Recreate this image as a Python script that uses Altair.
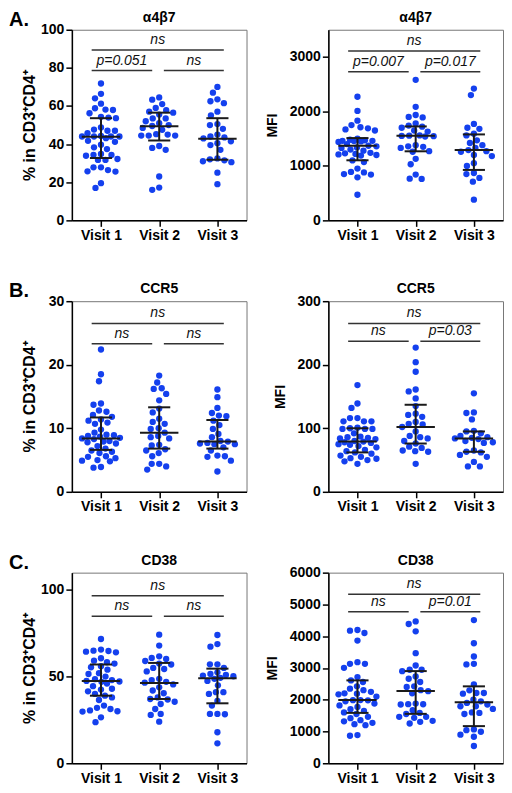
import altair as alt
import pandas as pd

BLUE = "#1440ee"
FONT = "Liberation Sans"
W, H = 175, 191

# ---------------- data ----------------
a4b7_pct_v1 = [71.8, 66.4, 64, 61.2, 56.2, 58.1, 57.9, 58.8, 53.9, 53.6, 54.3, 48.7, 47, 47, 47.6,
               44.3, 44, 44, 45.7, 43.1, 44, 44, 41.2, 41.7, 39.7, 37.4, 38.3, 34.4, 34.3, 33.9,
               34.8, 32.2, 31.7, 31.7, 27.8, 26.4, 27.8, 25.7, 25.6, 19.5, 17]
a4b7_pct_v2 = [64.5, 63.3, 61, 59, 57.8, 56.5, 57, 55.5, 53.5, 53.5, 51, 52, 50, 49.5, 48.5, 47.5,
               45, 44.5, 44.5, 44.5, 45.2, 39, 37, 38, 23, 16, 17.2]
a4b7_pct_v3 = [70, 67, 63.5, 62.5, 61.5, 57, 55, 50.5, 50, 48, 45, 44, 43.5, 43, 41.5, 40.5, 39.5,
               37, 32.5, 32, 31.5, 31, 30.5, 25, 19]
a4b7_pct_median = [43.8, 49.4, 42.8]
a4b7_pct_q1 = [32.7, 41.9, 31.8]
a4b7_pct_q3 = [53.6, 56.5, 53.6]

a4b7_mfi_v1 = [2270, 2010, 1830, 1750, 1710, 1690, 1670, 1650, 1500, 1480, 1470, 1460, 1460, 1455,
               1450, 1440, 1400, 1370, 1360, 1340, 1330, 1300, 1280, 1240, 1230, 1220, 1210, 1200,
               1190, 1100, 1070, 950, 890, 880, 850, 840, 790, 470]
a4b7_mfi_v2 = [2580, 2085, 1935, 1900, 1890, 1780, 1740, 1720, 1700, 1650, 1630, 1560, 1555, 1550,
               1545, 1540, 1380, 1360, 1350, 1330, 1270, 1260, 1130, 1030, 840, 765, 760]
a4b7_mfi_v3 = [2420, 2300, 1770, 1700, 1680, 1590, 1560, 1470, 1420, 1380, 1330, 1290, 1270, 1260,
               1200, 1180, 1050, 1000, 870, 850, 780, 710, 380]
a4b7_mfi_median = [1371, 1554, 1292]
a4b7_mfi_q1 = [1103, 1268, 926]
a4b7_mfi_q3 = [1511, 1725, 1578]

ccr5_pct_v1 = [22.4, 18.5, 17.4, 13.9, 13.7, 12.8, 12.6, 12.1, 11.8, 11.4, 11.2, 10.9, 10.7, 9.8,
               9.3, 9.0, 8.9, 8.8, 8.7, 8.5, 8.4, 8.3, 8.0, 7.9, 7.8, 7.6, 7.2, 6.8, 6.5, 6.3, 6.1,
               5.6, 5.5, 5.3, 5.0, 4.9, 4.8, 3.9, 3.8]
ccr5_pct_v2 = [18.3, 17.2, 16.3, 16.2, 15.4, 14.4, 13.1, 12.5, 11.5, 11.0, 10.7, 10.0, 9.9, 9.3,
               8.8, 8.6, 8.4, 7.4, 7.3, 6.7, 6.5, 6.1, 5.6, 4.4, 4.4, 4.0, 3.5]
ccr5_pct_v3 = [16.1, 14.9, 13.2, 12.4, 12.0, 11.9, 11.2, 10.5, 9.9, 9.1, 8.6, 8.0, 7.9, 7.7, 7.6,
               7.5, 7.5, 7.0, 6.5, 5.7, 5.6, 5.5, 4.9, 3.2]
ccr5_pct_median = [8.4, 9.3, 7.9]
ccr5_pct_q1 = [6.6, 6.8, 6.8]
ccr5_pct_q3 = [11.7, 13.3, 11.3]

ccr5_mfi_v1 = [168, 139, 132, 116, 116, 111, 111, 111, 101, 100, 99, 99, 99, 92, 87, 86, 85, 84,
               83, 80, 79, 78, 77, 75, 74, 72, 70, 66, 64, 62, 60, 57, 55, 53, 52, 50, 48, 44]
ccr5_mfi_v2 = [227, 204, 189, 161, 158, 147, 135, 123, 121, 118, 110, 107, 106, 102, 95, 88, 86,
               84, 80, 76, 71, 69, 65, 64, 63, 44]
ccr5_mfi_v3 = [155, 125, 124, 114, 96, 95, 92, 88, 86, 85, 84, 83, 80, 78, 77, 65, 63, 62, 58, 55,
               47, 40, 40]
ccr5_mfi_median = [79, 102, 84]
ccr5_mfi_q1 = [62, 76, 63]
ccr5_mfi_q3 = [100, 137, 95]

cd38_pct_v1 = [71.7, 65.6, 65, 64.8, 64.4, 64, 60.6, 59.2, 58.3, 57.5, 56, 55.4, 54, 52, 51.5, 50,
               48.5, 48, 47.5, 47.2, 47.0, 46, 44.5, 43, 42.5, 41.5, 40, 39, 38, 36.5, 33.3, 32,
               31.3, 30.5, 30, 29.8, 26.5, 23.7]
cd38_pct_v2 = [74.2, 67.9, 61.7, 60.8, 60.2, 59, 57.5, 57, 55, 54.4, 53, 48.7, 48, 47, 46.5, 45.5,
               43.8, 42, 40.4, 38, 37.1, 36.8, 35.5, 34.2, 31.3, 28.5, 27.9, 24]
cd38_pct_v3 = [74, 68.8, 67.3, 57.1, 57.1, 55, 52.5, 51.5, 51, 50.6, 50.2, 49.3, 48.7, 47.5, 45, 41,
               41, 40, 36, 33.3, 28.5, 28.5, 28.3, 17.9, 11.5]
cd38_pct_median = [47.5, 46.3, 49.0]
cd38_pct_q1 = [39.0, 37.1, 34.6]
cd38_pct_q3 = [57.0, 57.9, 54.6]

cd38_mfi_v1 = [4195, 4174, 4101, 3861, 3183, 3131, 3131, 3005, 2713, 2609, 2557, 2421, 2348, 2300,
               2250, 2200, 2191, 2170, 2100, 1990, 1985, 1980, 1950, 1878, 1820, 1774, 1700, 1650,
               1600, 1550, 1461, 1420, 1357, 1320, 1273, 1231, 1200, 887, 866]
cd38_mfi_v2 = [4466, 4383, 4153, 3464, 3078, 2943, 2943, 2900, 2734, 2661, 2557, 2421, 2400, 2300,
               2270, 2200, 1878, 1860, 1857, 1850, 1670, 1586, 1550, 1461, 1461, 1430, 1336, 1304,
               1252]
cd38_mfi_v3 = [4508, 3778, 3360, 3131, 3110, 2484, 2296, 2212, 2212, 2191, 2000, 1950, 1900, 1850,
               1795, 1795, 1711, 1600, 1586, 1550, 1064, 1043, 991, 900, 835, 543]
cd38_mfi_median = [1990, 2275, 1920]
cd38_mfi_q1 = [1586, 1555, 1169]
cd38_mfi_q3 = [2609, 2901, 2421]

visits = [1, 2, 3]
bracket_x1 = [0.84, 0.84, 2.08]
bracket_x2 = [3.11, 1.88, 3.11]

a4b7_pct_brackets = [89.4, 78.6, 78.6]
a4b7_mfi_brackets = [3108, 2730, 2730]
ccr5_pct_brackets = [26.5, 23.3, 23.3]
ccr5_mfi_brackets = [265, 237, 237]
cd38_pct_brackets = [96.7, 84.8, 84.8]
cd38_mfi_brackets = [5322, 4769, 4769]

a4b7_pct_labels = ["ns", "p=0.051", "ns"]
a4b7_mfi_labels = ["ns", "p=0.007", "p=0.017"]
ccr5_pct_labels = ["ns", "ns", "ns"]
ccr5_mfi_labels = ["ns", "ns", "p=0.03"]
cd38_pct_labels = ["ns", "ns", "ns"]
cd38_mfi_labels = ["ns", "ns", "p=0.01"]

PCT_TITLE = "% in CD3⁺CD4⁺"
MFI_TITLE = "MFI"


def swarm(vals, ypx, xpx, diam=7.2, maxoff=19.0):
    """Beeswarm with a capped half-width; returns horizontal offsets (x units)."""
    order = sorted(range(len(vals)), key=lambda i: -vals[i])
    n2 = int(maxoff * 2)
    cands = sorted([k * 0.5 for k in range(-n2, n2 + 1)], key=lambda c: (abs(c), c))
    placed = []
    offs = [0.0] * len(vals)
    for i in order:
        y = vals[i] * ypx
        chosen, fb, fbd = None, 0.0, -1.0
        for c in cands:
            d = min([((c - px) ** 2 + (y - py) ** 2) ** 0.5 for px, py in placed], default=1e9)
            if d >= diam:
                chosen = c
                break
            if d > fbd:
                fbd, fb = d, c
        if chosen is None:
            chosen = fb
        placed.append((chosen, y))
        offs[i] = chosen / xpx
    return offs


def panel(groups, med, q1, q3, ymax, yticks, ytitle, title, brackets, labels, left, letter=None):
    ypx = H / ymax
    xpx = W / 3.0
    rows = []
    for vi, vals in enumerate(groups):
        offs = swarm(vals, ypx, xpx)
        for v, o in zip(vals, offs):
            rows.append({"visit": vi + 1, "value": v, "xpos": vi + 1 + o})
    pts = pd.DataFrame(rows)

    xs = alt.Scale(domain=[0.5, 3.5], nice=False, zero=False)
    ys = alt.Scale(domain=[0, ymax], nice=False, zero=True)
    xaxis = alt.Axis(values=[1, 2, 3], labelExpr="'Visit ' + datum.value", title=None,
                     grid=False, labelPadding=2)
    if left:
        yaxis = alt.Axis(values=yticks, title=ytitle, grid=False, minExtent=31, maxExtent=31,
                         titlePadding=3, format="d", titleFontSize=16)
    else:
        yaxis = alt.Axis(values=yticks, title=ytitle, grid=False, titlePadding=10, format="d",
                         titleFontSize=14)

    def X(f):
        return alt.X(f, type="quantitative", scale=xs, axis=xaxis)

    def Y(f):
        return alt.Y(f, type="quantitative", scale=ys, axis=yaxis)

    points = alt.Chart(pts).mark_circle(size=40, color=BLUE, opacity=1).encode(
        x=X("xpos"), y=Y("value"))

    stats = pd.DataFrame({"visit": visits, "med": med, "q1": q1, "q3": q3})
    sb = alt.Chart(stats).transform_calculate(
        ml="datum.visit - 0.33", mr="datum.visit + 0.33",
        cl="datum.visit - 0.19", cr="datum.visit + 0.19",
    )
    rk = dict(color="#1a1a1a", strokeWidth=2)
    med_rule = sb.mark_rule(**rk).encode(x=X("ml"), x2="mr:Q", y=Y("med"))
    vert = sb.mark_rule(**rk).encode(x=X("visit"), y=Y("q1"), y2="q3:Q")
    cap_lo = sb.mark_rule(**rk).encode(x=X("cl"), x2="cr:Q", y=Y("q1"))
    cap_hi = sb.mark_rule(**rk).encode(x=X("cl"), x2="cr:Q", y=Y("q3"))

    br = pd.DataFrame({"x1": bracket_x1, "x2": bracket_x2, "y": brackets, "label": labels})
    bb = alt.Chart(br).transform_calculate(xm="(datum.x1 + datum.x2) / 2")
    br_rule = bb.mark_rule(color="#333333", strokeWidth=1.5).encode(
        x=X("x1"), x2="x2:Q", y=Y("y"))
    br_text = bb.mark_text(font=FONT, fontSize=14, fontStyle="italic", baseline="alphabetic",
                           dy=-6, color="#111111").encode(
        x=X("xm"), y=Y("y"), text="label:N")

    ttl = alt.Chart(pd.DataFrame({"t": [title]})).mark_text(
        align="center", baseline="alphabetic", font=FONT, fontSize=14, fontWeight="bold",
        color="black").encode(x=alt.value(W / 2), y=alt.value(-8), text="t:N")

    layers = [points, med_rule, vert, cap_lo, cap_hi, br_rule, br_text, ttl]
    if letter:
        lt = alt.Chart(pd.DataFrame({"t": [letter]})).mark_text(
            align="left", baseline="alphabetic", font=FONT, fontSize=20, fontWeight="bold",
            color="black").encode(x=alt.value(-63), y=alt.value(-4), text="t:N")
        layers.append(lt)

    return alt.layer(*layers).properties(width=W, height=H)


p1 = panel([a4b7_pct_v1, a4b7_pct_v2, a4b7_pct_v3], a4b7_pct_median, a4b7_pct_q1, a4b7_pct_q3,
           100, [0, 20, 40, 60, 80, 100], PCT_TITLE, "α4β7", a4b7_pct_brackets, a4b7_pct_labels,
           True, "A.")
p2 = panel([a4b7_mfi_v1, a4b7_mfi_v2, a4b7_mfi_v3], a4b7_mfi_median, a4b7_mfi_q1, a4b7_mfi_q3,
           3500, [0, 1000, 2000, 3000], MFI_TITLE, "α4β7", a4b7_mfi_brackets, a4b7_mfi_labels,
           False)
p3 = panel([ccr5_pct_v1, ccr5_pct_v2, ccr5_pct_v3], ccr5_pct_median, ccr5_pct_q1, ccr5_pct_q3,
           30, [0, 10, 20, 30], PCT_TITLE, "CCR5", ccr5_pct_brackets, ccr5_pct_labels, True, "B.")
p4 = panel([ccr5_mfi_v1, ccr5_mfi_v2, ccr5_mfi_v3], ccr5_mfi_median, ccr5_mfi_q1, ccr5_mfi_q3,
           300, [0, 100, 200, 300], MFI_TITLE, "CCR5", ccr5_mfi_brackets, ccr5_mfi_labels, False)
p5 = panel([cd38_pct_v1, cd38_pct_v2, cd38_pct_v3], cd38_pct_median, cd38_pct_q1, cd38_pct_q3,
           110, [0, 50, 100], PCT_TITLE, "CD38", cd38_pct_brackets, cd38_pct_labels, True, "C.")
p6 = panel([cd38_mfi_v1, cd38_mfi_v2, cd38_mfi_v3], cd38_mfi_median, cd38_mfi_q1, cd38_mfi_q3,
           6000, [0, 1000, 2000, 3000, 4000, 5000, 6000], MFI_TITLE, "CD38", cd38_mfi_brackets,
           cd38_mfi_labels, False)

chart = alt.concat(p1, p2, p3, p4, p5, p6, columns=2, bounds="flush",
                   spacing={"row": 81, "column": 82}).properties(
    padding={"left": 0, "top": 0, "right": 0, "bottom": 0}
).configure_view(
    stroke="#777777", strokeWidth=1
).configure_axis(
    domainColor="black", domainWidth=1.5, tickColor="black", tickWidth=1.5, tickSize=6,
    labelFont=FONT, labelFontSize=14, labelFontWeight="bold", labelColor="black",
    titleFont=FONT, titleFontSize=16, titleFontWeight="bold", titleColor="black",
).configure_axisY(labelPadding=2)

chart.save("out.html", embed_options={"renderer": "svg", "actions": False})
